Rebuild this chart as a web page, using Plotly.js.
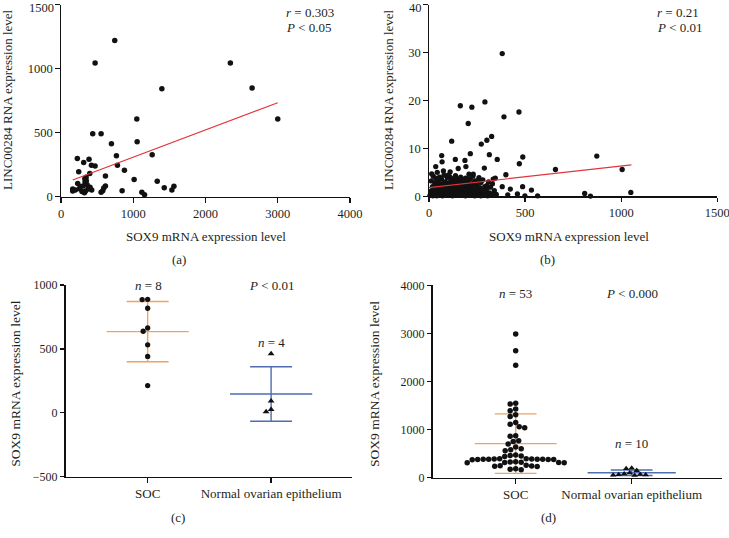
<!DOCTYPE html>
<html><head><meta charset="utf-8">
<script src="https://cdn.plot.ly/plotly-3.0.1.min.js"></script>
<style>html,body{margin:0;padding:0;background:#fff}</style>
</head><body><div id="chart" style="width:729px;height:538px"></div>
<script>
// ---------- Panel (a): SOX9 mRNA vs LINC00284 RNA (SOC, n = 53) ----------
const aPairs = [[744,1221],[472,1044],[2344,1044],[1396,844],[2645,849],[3000,607],[1049,607],[439,492],[555,492],[698,414],[1054,430],[767,320],[1262,328],[226,299],[388,292],[314,268],[421,245],[472,240],[781,245],[245,195],[878,206],[398,182],[615,161],[347,151],[1012,135],[1332,120],[231,104],[333,115],[361,94],[305,83],[402,73],[615,83],[592,68],[1429,70],[1563,81],[1535,52],[162,60],[199,52],[254,62],[324,31],[425,52],[555,34],[578,47],[846,47],[1119,34],[1156,16],[162,44],[290,40],[350,125],[330,140],[375,60],[270,80],[340,45]];
const aFitX = [162, 3000];
const aFitY = [130, 734];
const aStats = ['<i>r</i> = 0.303', '<i>P</i> < 0.05'];
const aYTicks = [0, 500, 1000, 1500];

// ---------- Panel (b): SOX9 mRNA vs LINC00284 RNA (larger cohort) ----------
const bPairs = [[381,29.8],[291,19.7],[163,18.9],[223,18.6],[468,17.6],[390,16.6],[204,15.2],[118,11.5],[326,12.5],[301,11.7],[272,10.9],[873,8.4],[488,8.2],[314,8.7],[215,8.9],[66,8.5],[137,7.7],[187,7.5],[355,7.7],[470,6.8],[68,7.2],[35,6.2],[152,5.8],[192,6.2],[288,5.9],[658,5.6],[1005,5.6],[14,4.7],[43,5.0],[75,5.3],[110,5.1],[208,4.6],[230,4.6],[400,4.5],[334,3.6],[260,3.9],[1050,0.8],[810,0.6],[840,0.05],[565,0.1],[533,1.3],[487,2.0],[499,0.1],[423,1.5],[381,2.0],[460,0.5],[300,2.2],[350,0.4],[410,0.3],
[5,0.2],[10,1.1],[12,3.2],[15,0.5],[18,2.0],[20,0.1],[22,4.2],[25,1.5],[28,0.8],[30,2.8],[32,0.3],[35,3.8],[38,1.2],[40,0.1],[42,2.4],[45,0.6],[48,3.3],[50,1.8],[52,0.2],[55,4.0],[58,1.0],[60,2.6],[62,0.4],[65,3.6],[68,1.4],[70,0.1],[72,2.1],[75,0.7],[78,4.4],[80,1.7],[82,0.3],[85,3.0],[88,1.1],[90,2.3],[92,0.5],[95,3.9],[98,1.5],[100,0.2],[102,2.7],[105,0.9],[108,4.1],[110,1.9],[112,0.4],[115,3.4],[118,1.2],[120,2.2],[122,0.1],[125,3.7],[128,1.6],[130,0.6],[132,2.9],[135,1.0],[138,4.3],[140,0.3],[142,2.0],[145,1.3],[148,3.5],[150,0.5],[152,2.5],[155,1.8],[158,0.2],[160,3.1],[162,1.1],[165,4.0],[168,0.7],[170,2.4],[172,1.5],[175,0.3],[178,3.3],[180,1.9],[182,0.9],[185,2.7],[188,0.4],[190,3.8],[192,1.4],[195,0.6],[198,2.2],[200,1.0],[202,3.0],[205,0.2],[208,1.7],[210,2.6],[212,0.8],[215,3.6],[218,1.2],[220,0.3],[222,2.1],[225,1.5],[228,4.2],[230,0.5],[232,2.8],[235,1.1],[238,0.1],[240,3.2],[245,1.6],[248,0.4],[250,2.3],[255,0.9],[258,3.5],[260,0.2],[265,1.8],[270,2.9],[272,0.6],[275,1.3],[280,3.4],[285,0.3],[290,2.0],[295,0.8],[300,1.5],[305,0.1],[310,3.0],[315,0.7],[320,1.9],[325,0.2],[330,2.6],[335,0.5],[340,1.2],[345,3.8],[130,1.8],[60,0.9],[90,1.6],[150,2.9],[180,2.6],[240,1.9],[110,2.9],[200,3.7],[170,0.5],[80,2.9],[40,3.5],[250,3.1],[270,0.1],[140,3.9],[100,4.4],[190,0.1]];
const bFitX = [0, 1053];
const bFitY = [1.83, 6.55];
const bStats = ['<i>r</i> = 0.21', '<i>P</i> < 0.01'];
const bYTicks = [0, 10, 20, 30, 40];

// ---------- Panel (c) ----------
const groups = ['SOC', 'Normal ovarian epithelium'];
const cSOC = [888, 886, 818, 664, 638, 532, 441, 213];
const cNormal = [462, 93, 8, 26];
const cLabels = ['<i>n</i> = 8', '<i>P</i> < 0.01', '<i>n</i> = 4'];

// ---------- Panel (d) ----------
const dSOC = [2990,2640,2340,1550,1530,1430,1390,1310,1270,1150,1110,1060,1040,870,860,770,750,700,640,600,580,560,470,460,450,440,395,392,390,388,386,385,384,382,380,378,376,375,330,325,320,318,315,312,310,260,250,245,240,235,185,175,165];
const dNormal = [200,190,150,100,80,70,65,60,55,50];
const dLabels = ['<i>n</i> = 53', '<i>P</i> < 0.000', '<i>n</i> = 10'];

const panelTags = ['(a)', '(b)', '(c)', '(d)'];
const xTitle = 'SOX9 mRNA expression level';
const yTitleAB = 'LINC00284 RNA expression level';
const yTitleCD = 'SOX9 mRNA expression level';

// ---------- helpers ----------
const W = 729, H = 538;
const px = x => x / W, py = y => 1 - y / H;
const FONT = 'Liberation Serif, Times New Roman, serif';
const TXT = '#231f20';
const ORANGE = '#f0a35e', BLUE = '#4f6db0', RED = '#e2343c';

function meanSd(v){const m=v.reduce((a,b)=>a+b,0)/v.length;const s=Math.sqrt(v.reduce((a,b)=>a+(b-m)*(b-m),0)/(v.length-1));return [m,s];}
function swarm(vals, pxPerY, pxPerX, diam){
  const idx = vals.map((v,i)=>i).sort((i,j)=>vals[j]-vals[i]);
  const placed=[]; const off=new Array(vals.length).fill(0);
  for(const i of idx){
    const y=vals[i]*pxPerY;
    for(let k=0;k<600;k++){
      const s=(k%2===0?1:-1)*Math.ceil(k/2)*0.5;
      let ok=true;
      for(const p of placed){const dx=p[0]-s,dy=p[1]-y;if(dx*dx+dy*dy<diam*diam-0.01){ok=false;break;}}
      if(ok){placed.push([s,y]);off[i]=s/pxPerX;break;}
    }
  }
  return off;
}
function errTrace(cat, vals, color, xa, ya, halfMean, halfCap){
  const [m,s]=meanSd(vals);
  return {type:'scatter',mode:'lines',xaxis:xa,yaxis:ya,line:{color:color,width:1.4},hoverinfo:'skip',showlegend:false,cliponaxis:false,
    x:[cat-halfMean,cat+halfMean,null,cat,cat,null,cat-halfCap,cat+halfCap,null,cat-halfCap,cat+halfCap],
    y:[m,m,null,m-s,m+s,null,m+s,m+s,null,m-s,m-s]};
}
function dots(cat, vals, off, sym, xa, ya, size){
  return {type:'scatter',mode:'markers',xaxis:xa,yaxis:ya,cliponaxis:false,showlegend:false,
    x:vals.map((v,i)=>cat+off[i]), y:vals,
    marker:{symbol:sym,size:size,color:'#111'}};
}

const traces = [];
// (a)
traces.push({type:'scatter',mode:'markers',x:aPairs.map(p=>p[0]),y:aPairs.map(p=>p[1]),xaxis:'x',yaxis:'y',cliponaxis:false,marker:{size:5.5,color:'#111'},showlegend:false});
traces.push({type:'scatter',mode:'lines',x:aFitX,y:aFitY,xaxis:'x',yaxis:'y',line:{color:RED,width:1.2},showlegend:false});
// (b)
traces.push({type:'scatter',mode:'markers',x:bPairs.map(p=>p[0]),y:bPairs.map(p=>p[1]),xaxis:'x2',yaxis:'y2',cliponaxis:false,marker:{size:5.3,color:'#111'},showlegend:false});
traces.push({type:'scatter',mode:'lines',x:bFitX,y:bFitY,xaxis:'x2',yaxis:'y2',line:{color:RED,width:1.2},showlegend:false});
// (c)
traces.push(errTrace(0,cSOC,ORANGE,'x3','y3',0.333,0.17));
traces.push(errTrace(1,cNormal,BLUE,'x3','y3',0.333,0.17));
traces.push(dots(0,cSOC,swarm(cSOC,193/1500,123.4,5.4),'circle','x3','y3',5.3));
traces.push(dots(1,cNormal,swarm(cNormal,193/1500,123.4,5.4),'triangle-up','x3','y3',6));
// (d)
traces.push(errTrace(0,dSOC,ORANGE,'x4','y4',0.353,0.18));
traces.push(errTrace(1,dNormal,BLUE,'x4','y4',0.38,0.18));
traces.push(dots(0,dSOC,swarm(dSOC,192.4/4000,116,5.5),'circle','x4','y4',5.5));
traces.push(dots(1,dNormal,swarm(dNormal,192.4/4000,116,5.2),'triangle-up','x4','y4',5.8));

const axBase = {showline:true,linecolor:'#111',linewidth:1.3,ticks:'outside',ticklen:4.5,tickwidth:1.3,tickcolor:'#111',
  showgrid:false,zeroline:false,tickfont:{family:FONT,size:12.5,color:TXT},fixedrange:true,ticklabeloverflow:'allow'};

// top tick label of (a)/(b) y axes is drawn as an annotation just inside the page so it is not cut off
const lastLabelBlank = v => v.map((t,i)=> i===v.length-1 ? '' : String(t));

const layout = {
  width:W,height:H,margin:{l:0,r:0,t:0,b:0},paper_bgcolor:'#fff',plot_bgcolor:'rgba(0,0,0,0)',showlegend:false,
  font:{family:FONT,color:TXT},
  xaxis: Object.assign({},axBase,{domain:[px(61),px(350)],range:[0,4000],tickvals:[0,1000,2000,3000,4000],anchor:'y'}),
  yaxis: Object.assign({},axBase,{domain:[py(196.7),py(4.7)],range:[0,1500],tickvals:aYTicks,ticktext:lastLabelBlank(aYTicks),anchor:'x'}),
  xaxis2: Object.assign({},axBase,{domain:[px(429),px(717.3)],range:[0,1500],tickvals:[0,500,1000,1500],anchor:'y2'}),
  yaxis2: Object.assign({},axBase,{domain:[py(196.3),py(4.7)],range:[0,40],tickvals:bYTicks,ticktext:lastLabelBlank(bYTicks),anchor:'x2'}),
  xaxis3: Object.assign({},axBase,{domain:[px(65.7),px(351.7)],range:[-0.664,1.653],tickvals:[0,1],ticktext:groups,anchor:'y3',tickfont:{family:FONT,size:13,color:TXT}}),
  yaxis3: Object.assign({},axBase,{domain:[py(476.7),py(285)],range:[-500,1000],tickvals:[-500,0,500,1000],anchor:'x3',tickfont:{family:FONT,size:12,color:TXT}}),
  xaxis4: Object.assign({},axBase,{domain:[px(432.7),px(721.7)],range:[-0.7155,1.776],tickvals:[0,1],ticktext:groups,anchor:'y4',tickfont:{family:FONT,size:13,color:TXT}}),
  yaxis4: Object.assign({},axBase,{domain:[py(477.7),py(285.3)],range:[0,4000],tickvals:[0,1000,2000,3000,4000],anchor:'x4',tickfont:{family:FONT,size:12,color:TXT}}),
  annotations: []
};
const A = layout.annotations;
function ann(text,x,y,opt){A.push(Object.assign({text:text,xref:'paper',yref:'paper',x:px(x),y:py(y),showarrow:false,xanchor:'center',yanchor:'middle',font:{family:FONT,size:13,color:TXT}},opt||{}));}
// top y tick labels
ann(String(aYTicks[aYTicks.length-1]),54.5,0.5,{xanchor:'right',yanchor:'top',borderpad:0,font:{family:FONT,size:12.5,color:TXT}});
ann(String(bYTicks[bYTicks.length-1]),422.5,0.5,{xanchor:'right',yanchor:'top',borderpad:0,font:{family:FONT,size:12.5,color:TXT}});
// axis titles
ann(xTitle,206,236);
ann(xTitle,569,236);
ann(yTitleAB,8,100,{textangle:-90});
ann(yTitleAB,389,100,{textangle:-90});
ann(yTitleCD,14.7,384,{textangle:-90,font:{family:FONT,size:13.5,color:TXT}});
ann(yTitleCD,374,384,{textangle:-90,font:{family:FONT,size:13.5,color:TXT}});
// stats
ann(aStats[0],284,12.7,{xanchor:'left'});
ann(aStats[1],284,27.5,{xanchor:'left'});
ann(bStats[0],655,12.7,{xanchor:'left'});
ann(bStats[1],655,27.5,{xanchor:'left'});
ann(cLabels[0],148.3,285.5);
ann(cLabels[1],271.7,285.5);
ann(cLabels[2],271.7,342);
ann(dLabels[0],515.7,293.5);
ann(dLabels[1],631.7,293.5);
ann(dLabels[2],631.7,443.5);
// panel tags
ann(panelTags[0],179,259.5);
ann(panelTags[1],547,259.5);
ann(panelTags[2],178,517);
ann(panelTags[3],548,517);

Plotly.newPlot('chart',traces,layout,{staticPlot:true,displayModeBar:false});
</script></body></html>
